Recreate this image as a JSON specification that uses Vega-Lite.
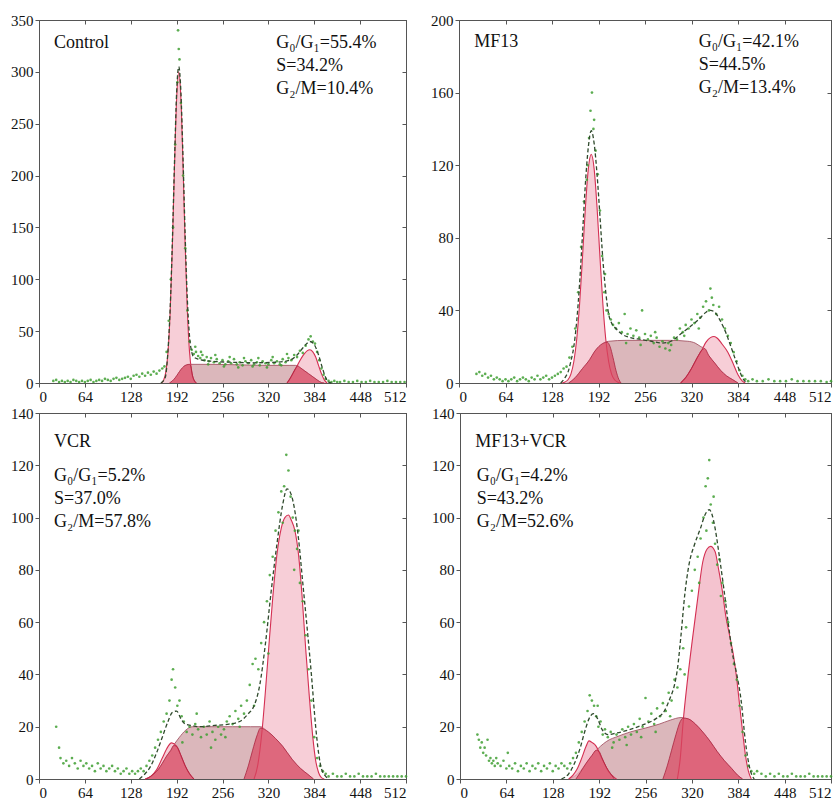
{
"$schema": "https://vega.github.io/schema/vega-lite/v6.json",
"background": "white",
"padding": {"left": 10, "top": 12, "right": 5, "bottom": 0},
"config": {"font": "Liberation Serif", "view": {"stroke": "#555", "strokeWidth": 1},
  "axis": {"labelFont": "Liberation Serif", "labelFontSize": 15, "labelColor": "#111", "domainColor": "#555", "tickColor": "#555", "grid": false, "tickSize": 4, "title": null, "labelPadding": 2}},
"datasets": {
"curves": [
{"p":"A","c":"S","x":182,"y":0},{"p":"A","c":"S","x":186,"y":2},{"p":"A","c":"S","x":190,"y":5},{"p":"A","c":"S","x":194,"y":9},{"p":"A","c":"S","x":198,"y":13},{"p":"A","c":"S","x":202,"y":16},{"p":"A","c":"S","x":206,"y":17.5},{"p":"A","c":"S","x":212,"y":18},{"p":"A","c":"S","x":240,"y":18},{"p":"A","c":"S","x":280,"y":17.5},{"p":"A","c":"S","x":320,"y":17},{"p":"A","c":"S","x":350,"y":17},{"p":"A","c":"S","x":358,"y":17},{"p":"A","c":"S","x":364,"y":15},{"p":"A","c":"S","x":370,"y":12},{"p":"A","c":"S","x":376,"y":9},{"p":"A","c":"S","x":382,"y":6},{"p":"A","c":"S","x":388,"y":3},{"p":"A","c":"S","x":394,"y":0.5},{"p":"A","c":"S","x":398,"y":0},
{"p":"A","c":"G1","x":171,"y":0},{"p":"A","c":"G1","x":174,"y":3},{"p":"A","c":"G1","x":177,"y":11},{"p":"A","c":"G1","x":180,"y":30},{"p":"A","c":"G1","x":183,"y":69},{"p":"A","c":"G1","x":186,"y":131},{"p":"A","c":"G1","x":189,"y":208},{"p":"A","c":"G1","x":192,"y":274},{"p":"A","c":"G1","x":195,"y":300},{"p":"A","c":"G1","x":198,"y":274},{"p":"A","c":"G1","x":201,"y":208},{"p":"A","c":"G1","x":204,"y":131},{"p":"A","c":"G1","x":207,"y":69},{"p":"A","c":"G1","x":210,"y":30},{"p":"A","c":"G1","x":213,"y":11},{"p":"A","c":"G1","x":216,"y":3},{"p":"A","c":"G1","x":219,"y":0},
{"p":"A","c":"G2","x":346,"y":0},{"p":"A","c":"G2","x":350,"y":4},{"p":"A","c":"G2","x":354,"y":9},{"p":"A","c":"G2","x":358,"y":14},{"p":"A","c":"G2","x":362,"y":19},{"p":"A","c":"G2","x":366,"y":24},{"p":"A","c":"G2","x":370,"y":28},{"p":"A","c":"G2","x":374,"y":31},{"p":"A","c":"G2","x":378,"y":32},{"p":"A","c":"G2","x":382,"y":30},{"p":"A","c":"G2","x":386,"y":25},{"p":"A","c":"G2","x":390,"y":17},{"p":"A","c":"G2","x":394,"y":9},{"p":"A","c":"G2","x":398,"y":3},{"p":"A","c":"G2","x":402,"y":0},
{"p":"A","c":"OV1","x":182,"y":0},{"p":"A","c":"OV1","x":186,"y":2},{"p":"A","c":"OV1","x":190,"y":5},{"p":"A","c":"OV1","x":194,"y":9},{"p":"A","c":"OV1","x":198,"y":13},{"p":"A","c":"OV1","x":202,"y":16},{"p":"A","c":"OV1","x":206,"y":17.5},{"p":"A","c":"OV1","x":210,"y":18},{"p":"A","c":"OV1","x":212,"y":15.5},{"p":"A","c":"OV1","x":214,"y":7.5},{"p":"A","c":"OV1","x":217,"y":2},{"p":"A","c":"OV1","x":220,"y":0},
{"p":"A","c":"OV2","x":346,"y":0},{"p":"A","c":"OV2","x":350,"y":4},{"p":"A","c":"OV2","x":354,"y":9},{"p":"A","c":"OV2","x":358,"y":14},{"p":"A","c":"OV2","x":361,"y":16.5},{"p":"A","c":"OV2","x":364,"y":15},{"p":"A","c":"OV2","x":370,"y":12},{"p":"A","c":"OV2","x":376,"y":9},{"p":"A","c":"OV2","x":382,"y":6},{"p":"A","c":"OV2","x":388,"y":3},{"p":"A","c":"OV2","x":394,"y":0.5},{"p":"A","c":"OV2","x":398,"y":0},
{"p":"A","c":"T","x":170,"y":0},{"p":"A","c":"T","x":176,"y":5},{"p":"A","c":"T","x":180,"y":32},{"p":"A","c":"T","x":183,"y":72},{"p":"A","c":"T","x":186,"y":135},{"p":"A","c":"T","x":189,"y":212},{"p":"A","c":"T","x":192,"y":280},{"p":"A","c":"T","x":195,"y":305},{"p":"A","c":"T","x":198,"y":280},{"p":"A","c":"T","x":201,"y":215},{"p":"A","c":"T","x":204,"y":140},{"p":"A","c":"T","x":207,"y":80},{"p":"A","c":"T","x":210,"y":45},{"p":"A","c":"T","x":213,"y":30},{"p":"A","c":"T","x":216,"y":25},{"p":"A","c":"T","x":222,"y":23},{"p":"A","c":"T","x":240,"y":21},{"p":"A","c":"T","x":270,"y":20},{"p":"A","c":"T","x":300,"y":19.5},{"p":"A","c":"T","x":330,"y":20},{"p":"A","c":"T","x":350,"y":22},{"p":"A","c":"T","x":360,"y":27},{"p":"A","c":"T","x":366,"y":32},{"p":"A","c":"T","x":372,"y":37},{"p":"A","c":"T","x":378,"y":40},{"p":"A","c":"T","x":384,"y":37},{"p":"A","c":"T","x":390,"y":27},{"p":"A","c":"T","x":396,"y":13},{"p":"A","c":"T","x":400,"y":5},{"p":"A","c":"T","x":404,"y":1},{"p":"A","c":"T","x":408,"y":0},

{"p":"B","c":"S","x":148,"y":0},{"p":"B","c":"S","x":155,"y":1},{"p":"B","c":"S","x":160,"y":3},{"p":"B","c":"S","x":170,"y":8},{"p":"B","c":"S","x":180,"y":13},{"p":"B","c":"S","x":186,"y":17},{"p":"B","c":"S","x":195,"y":21},{"p":"B","c":"S","x":206,"y":23},{"p":"B","c":"S","x":230,"y":23.5},{"p":"B","c":"S","x":260,"y":23.5},{"p":"B","c":"S","x":290,"y":23.5},{"p":"B","c":"S","x":315,"y":23},{"p":"B","c":"S","x":325,"y":22},{"p":"B","c":"S","x":333,"y":20},{"p":"B","c":"S","x":338,"y":19},{"p":"B","c":"S","x":344,"y":15},{"p":"B","c":"S","x":352,"y":11},{"p":"B","c":"S","x":360,"y":7},{"p":"B","c":"S","x":368,"y":4},{"p":"B","c":"S","x":376,"y":2},{"p":"B","c":"S","x":384,"y":0},
{"p":"B","c":"G1","x":142,"y":0},{"p":"B","c":"G1","x":146,"y":0.6},{"p":"B","c":"G1","x":150,"y":1.8},{"p":"B","c":"G1","x":154,"y":4.9},{"p":"B","c":"G1","x":158,"y":11.7},{"p":"B","c":"G1","x":162,"y":24.1},{"p":"B","c":"G1","x":166,"y":43.7},{"p":"B","c":"G1","x":170,"y":69.4},{"p":"B","c":"G1","x":174,"y":96.8},{"p":"B","c":"G1","x":178,"y":118},{"p":"B","c":"G1","x":182,"y":126},{"p":"B","c":"G1","x":186,"y":118},{"p":"B","c":"G1","x":190,"y":96.8},{"p":"B","c":"G1","x":194,"y":69.4},{"p":"B","c":"G1","x":198,"y":43.7},{"p":"B","c":"G1","x":202,"y":24.1},{"p":"B","c":"G1","x":206,"y":11.7},{"p":"B","c":"G1","x":210,"y":4.9},{"p":"B","c":"G1","x":214,"y":1.8},{"p":"B","c":"G1","x":218,"y":0.6},{"p":"B","c":"G1","x":222,"y":0},
{"p":"B","c":"G2","x":305,"y":0},{"p":"B","c":"G2","x":312,"y":3},{"p":"B","c":"G2","x":320,"y":8},{"p":"B","c":"G2","x":328,"y":14},{"p":"B","c":"G2","x":334,"y":18},{"p":"B","c":"G2","x":340,"y":22.5},{"p":"B","c":"G2","x":346,"y":25},{"p":"B","c":"G2","x":351,"y":25.6},{"p":"B","c":"G2","x":356,"y":24.5},{"p":"B","c":"G2","x":362,"y":21.5},{"p":"B","c":"G2","x":370,"y":17},{"p":"B","c":"G2","x":377,"y":11},{"p":"B","c":"G2","x":384,"y":4.5},{"p":"B","c":"G2","x":390,"y":1},{"p":"B","c":"G2","x":394,"y":0},
{"p":"B","c":"OV1","x":151,"y":0},{"p":"B","c":"OV1","x":160,"y":3},{"p":"B","c":"OV1","x":170,"y":8},{"p":"B","c":"OV1","x":180,"y":13},{"p":"B","c":"OV1","x":186,"y":17},{"p":"B","c":"OV1","x":195,"y":21},{"p":"B","c":"OV1","x":204,"y":22.5},{"p":"B","c":"OV1","x":208,"y":20},{"p":"B","c":"OV1","x":212,"y":14},{"p":"B","c":"OV1","x":216,"y":7},{"p":"B","c":"OV1","x":220,"y":2},{"p":"B","c":"OV1","x":223,"y":0},
{"p":"B","c":"OV2","x":305,"y":0},{"p":"B","c":"OV2","x":312,"y":3},{"p":"B","c":"OV2","x":320,"y":8},{"p":"B","c":"OV2","x":328,"y":14},{"p":"B","c":"OV2","x":334,"y":18},{"p":"B","c":"OV2","x":338,"y":19},{"p":"B","c":"OV2","x":344,"y":15},{"p":"B","c":"OV2","x":352,"y":11},{"p":"B","c":"OV2","x":360,"y":7},{"p":"B","c":"OV2","x":368,"y":4},{"p":"B","c":"OV2","x":376,"y":2},{"p":"B","c":"OV2","x":384,"y":0},
{"p":"B","c":"T","x":140,"y":0},{"p":"B","c":"T","x":146,"y":3},{"p":"B","c":"T","x":150,"y":6},{"p":"B","c":"T","x":154,"y":12},{"p":"B","c":"T","x":158,"y":20},{"p":"B","c":"T","x":162,"y":34},{"p":"B","c":"T","x":166,"y":55},{"p":"B","c":"T","x":170,"y":82},{"p":"B","c":"T","x":174,"y":110},{"p":"B","c":"T","x":178,"y":130},{"p":"B","c":"T","x":182,"y":139},{"p":"B","c":"T","x":186,"y":132},{"p":"B","c":"T","x":190,"y":115},{"p":"B","c":"T","x":194,"y":92},{"p":"B","c":"T","x":198,"y":68},{"p":"B","c":"T","x":202,"y":50},{"p":"B","c":"T","x":206,"y":38},{"p":"B","c":"T","x":210,"y":33},{"p":"B","c":"T","x":216,"y":30},{"p":"B","c":"T","x":224,"y":27},{"p":"B","c":"T","x":236,"y":25},{"p":"B","c":"T","x":250,"y":24},{"p":"B","c":"T","x":265,"y":23},{"p":"B","c":"T","x":280,"y":22},{"p":"B","c":"T","x":292,"y":23},{"p":"B","c":"T","x":305,"y":27},{"p":"B","c":"T","x":318,"y":31},{"p":"B","c":"T","x":330,"y":35},{"p":"B","c":"T","x":340,"y":39},{"p":"B","c":"T","x":346,"y":40},{"p":"B","c":"T","x":352,"y":39},{"p":"B","c":"T","x":360,"y":34},{"p":"B","c":"T","x":368,"y":27},{"p":"B","c":"T","x":376,"y":18},{"p":"B","c":"T","x":384,"y":9},{"p":"B","c":"T","x":390,"y":3},{"p":"B","c":"T","x":396,"y":0},

{"p":"C","c":"S","x":148,"y":0},{"p":"C","c":"S","x":156,"y":1},{"p":"C","c":"S","x":164,"y":3},{"p":"C","c":"S","x":172,"y":6},{"p":"C","c":"S","x":180,"y":9.5},{"p":"C","c":"S","x":188,"y":13},{"p":"C","c":"S","x":196,"y":16},{"p":"C","c":"S","x":204,"y":18.5},{"p":"C","c":"S","x":214,"y":20},{"p":"C","c":"S","x":240,"y":20},{"p":"C","c":"S","x":270,"y":20},{"p":"C","c":"S","x":295,"y":20},{"p":"C","c":"S","x":309,"y":20},{"p":"C","c":"S","x":320,"y":18},{"p":"C","c":"S","x":330,"y":15.5},{"p":"C","c":"S","x":340,"y":12.5},{"p":"C","c":"S","x":353,"y":7.6},{"p":"C","c":"S","x":365,"y":4},{"p":"C","c":"S","x":375,"y":1.8},{"p":"C","c":"S","x":383,"y":0},
{"p":"C","c":"G1","x":148,"y":0},{"p":"C","c":"G1","x":156,"y":1},{"p":"C","c":"G1","x":164,"y":3.5},{"p":"C","c":"G1","x":172,"y":8},{"p":"C","c":"G1","x":178,"y":11.5},{"p":"C","c":"G1","x":185,"y":13.8},{"p":"C","c":"G1","x":192,"y":12.5},{"p":"C","c":"G1","x":198,"y":9},{"p":"C","c":"G1","x":204,"y":5},{"p":"C","c":"G1","x":210,"y":2},{"p":"C","c":"G1","x":216,"y":0},
{"p":"C","c":"G2","x":300,"y":0},{"p":"C","c":"G2","x":305,"y":5},{"p":"C","c":"G2","x":311,"y":18},{"p":"C","c":"G2","x":316,"y":34},{"p":"C","c":"G2","x":321,"y":52},{"p":"C","c":"G2","x":326,"y":69},{"p":"C","c":"G2","x":332,"y":86},{"p":"C","c":"G2","x":338,"y":96},{"p":"C","c":"G2","x":343,"y":100},{"p":"C","c":"G2","x":348,"y":101},{"p":"C","c":"G2","x":352,"y":99},{"p":"C","c":"G2","x":357,"y":95},{"p":"C","c":"G2","x":362,"y":86},{"p":"C","c":"G2","x":367,"y":70},{"p":"C","c":"G2","x":372,"y":50},{"p":"C","c":"G2","x":377,"y":32},{"p":"C","c":"G2","x":382,"y":16},{"p":"C","c":"G2","x":386,"y":7},{"p":"C","c":"G2","x":390,"y":2.5},{"p":"C","c":"G2","x":394,"y":0.5},{"p":"C","c":"G2","x":398,"y":0},
{"p":"C","c":"OV1","x":150,"y":0},{"p":"C","c":"OV1","x":158,"y":1.5},{"p":"C","c":"OV1","x":166,"y":3.5},{"p":"C","c":"OV1","x":172,"y":6},{"p":"C","c":"OV1","x":178,"y":8.8},{"p":"C","c":"OV1","x":184,"y":11},{"p":"C","c":"OV1","x":188,"y":12.8},{"p":"C","c":"OV1","x":192,"y":12.5},{"p":"C","c":"OV1","x":198,"y":9},{"p":"C","c":"OV1","x":204,"y":5},{"p":"C","c":"OV1","x":210,"y":2},{"p":"C","c":"OV1","x":216,"y":0},
{"p":"C","c":"OV2","x":286,"y":0},{"p":"C","c":"OV2","x":292,"y":5},{"p":"C","c":"OV2","x":298,"y":11},{"p":"C","c":"OV2","x":304,"y":16.5},{"p":"C","c":"OV2","x":309,"y":19.5},{"p":"C","c":"OV2","x":320,"y":18},{"p":"C","c":"OV2","x":330,"y":15.5},{"p":"C","c":"OV2","x":340,"y":12.5},{"p":"C","c":"OV2","x":353,"y":7.6},{"p":"C","c":"OV2","x":365,"y":4},{"p":"C","c":"OV2","x":375,"y":1.8},{"p":"C","c":"OV2","x":383,"y":0},
{"p":"C","c":"T","x":140,"y":0},{"p":"C","c":"T","x":148,"y":2},{"p":"C","c":"T","x":156,"y":5},{"p":"C","c":"T","x":164,"y":10},{"p":"C","c":"T","x":172,"y":16},{"p":"C","c":"T","x":180,"y":22},{"p":"C","c":"T","x":186,"y":25.5},{"p":"C","c":"T","x":192,"y":26},{"p":"C","c":"T","x":198,"y":23},{"p":"C","c":"T","x":204,"y":21},{"p":"C","c":"T","x":212,"y":20.5},{"p":"C","c":"T","x":225,"y":20},{"p":"C","c":"T","x":245,"y":20.5},{"p":"C","c":"T","x":265,"y":21},{"p":"C","c":"T","x":280,"y":22},{"p":"C","c":"T","x":292,"y":25},{"p":"C","c":"T","x":300,"y":28},{"p":"C","c":"T","x":308,"y":36},{"p":"C","c":"T","x":316,"y":52},{"p":"C","c":"T","x":324,"y":72},{"p":"C","c":"T","x":332,"y":90},{"p":"C","c":"T","x":340,"y":105},{"p":"C","c":"T","x":346,"y":111},{"p":"C","c":"T","x":350,"y":110},{"p":"C","c":"T","x":356,"y":104},{"p":"C","c":"T","x":362,"y":92},{"p":"C","c":"T","x":368,"y":75},{"p":"C","c":"T","x":374,"y":58},{"p":"C","c":"T","x":380,"y":40},{"p":"C","c":"T","x":386,"y":20},{"p":"C","c":"T","x":390,"y":10},{"p":"C","c":"T","x":394,"y":4},{"p":"C","c":"T","x":400,"y":1},{"p":"C","c":"T","x":404,"y":0},

{"p":"D","c":"S","x":150,"y":0},{"p":"D","c":"S","x":158,"y":1},{"p":"D","c":"S","x":166,"y":3},{"p":"D","c":"S","x":174,"y":6},{"p":"D","c":"S","x":182,"y":9},{"p":"D","c":"S","x":190,"y":11.5},{"p":"D","c":"S","x":198,"y":13.5},{"p":"D","c":"S","x":206,"y":15},{"p":"D","c":"S","x":215,"y":16},{"p":"D","c":"S","x":235,"y":18},{"p":"D","c":"S","x":256,"y":19.5},{"p":"D","c":"S","x":275,"y":21},{"p":"D","c":"S","x":290,"y":22.5},{"p":"D","c":"S","x":305,"y":23.5},{"p":"D","c":"S","x":315,"y":23},{"p":"D","c":"S","x":325,"y":21},{"p":"D","c":"S","x":335,"y":18},{"p":"D","c":"S","x":345,"y":14.5},{"p":"D","c":"S","x":355,"y":10.5},{"p":"D","c":"S","x":365,"y":7},{"p":"D","c":"S","x":375,"y":4},{"p":"D","c":"S","x":383,"y":1.5},{"p":"D","c":"S","x":390,"y":0},
{"p":"D","c":"G1","x":150,"y":0},{"p":"D","c":"G1","x":156,"y":1.5},{"p":"D","c":"G1","x":162,"y":4},{"p":"D","c":"G1","x":168,"y":8},{"p":"D","c":"G1","x":174,"y":12.5},{"p":"D","c":"G1","x":178,"y":14.6},{"p":"D","c":"G1","x":182,"y":14},{"p":"D","c":"G1","x":188,"y":12.5},{"p":"D","c":"G1","x":194,"y":9},{"p":"D","c":"G1","x":200,"y":5.5},{"p":"D","c":"G1","x":206,"y":2.5},{"p":"D","c":"G1","x":212,"y":0.8},{"p":"D","c":"G1","x":216,"y":0},
{"p":"D","c":"G2","x":300,"y":0},{"p":"D","c":"G2","x":304,"y":8},{"p":"D","c":"G2","x":308,"y":22},{"p":"D","c":"G2","x":314,"y":38},{"p":"D","c":"G2","x":321,"y":54},{"p":"D","c":"G2","x":328,"y":69},{"p":"D","c":"G2","x":335,"y":83},{"p":"D","c":"G2","x":341,"y":88},{"p":"D","c":"G2","x":346,"y":89},{"p":"D","c":"G2","x":352,"y":87},{"p":"D","c":"G2","x":357,"y":80},{"p":"D","c":"G2","x":362,"y":72},{"p":"D","c":"G2","x":367,"y":62},{"p":"D","c":"G2","x":372,"y":55},{"p":"D","c":"G2","x":377,"y":48},{"p":"D","c":"G2","x":382,"y":38},{"p":"D","c":"G2","x":386,"y":28},{"p":"D","c":"G2","x":390,"y":18},{"p":"D","c":"G2","x":394,"y":9},{"p":"D","c":"G2","x":398,"y":3},{"p":"D","c":"G2","x":402,"y":0},
{"p":"D","c":"OV1","x":160,"y":0},{"p":"D","c":"OV1","x":166,"y":2.5},{"p":"D","c":"OV1","x":174,"y":6},{"p":"D","c":"OV1","x":182,"y":9},{"p":"D","c":"OV1","x":188,"y":11},{"p":"D","c":"OV1","x":192,"y":10.5},{"p":"D","c":"OV1","x":196,"y":8},{"p":"D","c":"OV1","x":202,"y":4.5},{"p":"D","c":"OV1","x":208,"y":2},{"p":"D","c":"OV1","x":213,"y":0},
{"p":"D","c":"OV2","x":280,"y":0},{"p":"D","c":"OV2","x":286,"y":5},{"p":"D","c":"OV2","x":292,"y":11},{"p":"D","c":"OV2","x":298,"y":17},{"p":"D","c":"OV2","x":304,"y":22},{"p":"D","c":"OV2","x":308,"y":23.3},{"p":"D","c":"OV2","x":315,"y":23},{"p":"D","c":"OV2","x":325,"y":21},{"p":"D","c":"OV2","x":335,"y":18},{"p":"D","c":"OV2","x":345,"y":14.5},{"p":"D","c":"OV2","x":355,"y":10.5},{"p":"D","c":"OV2","x":365,"y":7},{"p":"D","c":"OV2","x":375,"y":4},{"p":"D","c":"OV2","x":383,"y":1.5},{"p":"D","c":"OV2","x":390,"y":0},
{"p":"D","c":"T","x":140,"y":0},{"p":"D","c":"T","x":150,"y":2},{"p":"D","c":"T","x":158,"y":6},{"p":"D","c":"T","x":166,"y":12},{"p":"D","c":"T","x":172,"y":18},{"p":"D","c":"T","x":178,"y":23},{"p":"D","c":"T","x":184,"y":25},{"p":"D","c":"T","x":190,"y":23},{"p":"D","c":"T","x":196,"y":19},{"p":"D","c":"T","x":204,"y":17},{"p":"D","c":"T","x":215,"y":17.5},{"p":"D","c":"T","x":235,"y":19},{"p":"D","c":"T","x":255,"y":21},{"p":"D","c":"T","x":270,"y":23},{"p":"D","c":"T","x":282,"y":26},{"p":"D","c":"T","x":290,"y":31},{"p":"D","c":"T","x":296,"y":36},{"p":"D","c":"T","x":300,"y":42},{"p":"D","c":"T","x":305,"y":55},{"p":"D","c":"T","x":310,"y":70},{"p":"D","c":"T","x":316,"y":82},{"p":"D","c":"T","x":324,"y":90},{"p":"D","c":"T","x":332,"y":96},{"p":"D","c":"T","x":338,"y":101},{"p":"D","c":"T","x":344,"y":103},{"p":"D","c":"T","x":348,"y":101},{"p":"D","c":"T","x":352,"y":96},{"p":"D","c":"T","x":358,"y":85},{"p":"D","c":"T","x":364,"y":73},{"p":"D","c":"T","x":370,"y":60},{"p":"D","c":"T","x":376,"y":48},{"p":"D","c":"T","x":382,"y":40},{"p":"D","c":"T","x":388,"y":30},{"p":"D","c":"T","x":394,"y":14},{"p":"D","c":"T","x":400,"y":4},{"p":"D","c":"T","x":406,"y":0}
],
"dots": [
{"p":"A","x":20,"y":2},{"p":"A","x":24,"y":3},{"p":"A","x":28,"y":1},{"p":"A","x":32,"y":2},{"p":"A","x":36,"y":1},{"p":"A","x":40,"y":2},{"p":"A","x":44,"y":1},{"p":"A","x":48,"y":3},{"p":"A","x":52,"y":2},{"p":"A","x":56,"y":1},{"p":"A","x":60,"y":2},{"p":"A","x":64,"y":1},{"p":"A","x":68,"y":2},{"p":"A","x":72,"y":3},{"p":"A","x":76,"y":1},{"p":"A","x":80,"y":2},{"p":"A","x":84,"y":3},{"p":"A","x":88,"y":2},{"p":"A","x":92,"y":4},{"p":"A","x":96,"y":3},{"p":"A","x":100,"y":2},{"p":"A","x":104,"y":4},{"p":"A","x":108,"y":5},{"p":"A","x":112,"y":3},{"p":"A","x":116,"y":4},{"p":"A","x":120,"y":5},{"p":"A","x":124,"y":6},{"p":"A","x":128,"y":4},{"p":"A","x":132,"y":7},{"p":"A","x":136,"y":8},{"p":"A","x":140,"y":6},{"p":"A","x":144,"y":9},{"p":"A","x":148,"y":7},{"p":"A","x":152,"y":10},{"p":"A","x":156,"y":8},{"p":"A","x":160,"y":11},{"p":"A","x":164,"y":9},{"p":"A","x":168,"y":12},{"p":"A","x":172,"y":14},{"p":"A","x":175,"y":16},{"p":"A","x":178,"y":30},{"p":"A","x":181,"y":60},{"p":"A","x":184,"y":100},{"p":"A","x":187,"y":150},{"p":"A","x":190,"y":230},{"p":"A","x":193,"y":290},{"p":"A","x":194,"y":340},{"p":"A","x":195,"y":322},{"p":"A","x":196,"y":312},{"p":"A","x":198,"y":270},{"p":"A","x":201,"y":200},{"p":"A","x":204,"y":130},{"p":"A","x":207,"y":70},{"p":"A","x":210,"y":40},{"p":"A","x":213,"y":32},{"p":"A","x":216,"y":28},{"p":"A","x":218,"y":35},{"p":"A","x":219,"y":30},{"p":"A","x":222,"y":26},{"p":"A","x":225,"y":24},{"p":"A","x":226,"y":30},{"p":"A","x":228,"y":27},{"p":"A","x":231,"y":22},{"p":"A","x":234,"y":25},{"p":"A","x":236,"y":18},{"p":"A","x":237,"y":21},{"p":"A","x":240,"y":24},{"p":"A","x":244,"y":20},{"p":"A","x":246,"y":27},{"p":"A","x":248,"y":23},{"p":"A","x":252,"y":19},{"p":"A","x":256,"y":22},{"p":"A","x":258,"y":16},{"p":"A","x":260,"y":18},{"p":"A","x":264,"y":21},{"p":"A","x":266,"y":25},{"p":"A","x":268,"y":19},{"p":"A","x":272,"y":23},{"p":"A","x":276,"y":18},{"p":"A","x":278,"y":15},{"p":"A","x":280,"y":20},{"p":"A","x":284,"y":17},{"p":"A","x":286,"y":24},{"p":"A","x":288,"y":21},{"p":"A","x":292,"y":19},{"p":"A","x":296,"y":22},{"p":"A","x":298,"y":16},{"p":"A","x":300,"y":18},{"p":"A","x":304,"y":20},{"p":"A","x":306,"y":24},{"p":"A","x":308,"y":17},{"p":"A","x":312,"y":21},{"p":"A","x":316,"y":19},{"p":"A","x":318,"y":15},{"p":"A","x":320,"y":18},{"p":"A","x":324,"y":22},{"p":"A","x":326,"y":25},{"p":"A","x":328,"y":19},{"p":"A","x":332,"y":21},{"p":"A","x":336,"y":18},{"p":"A","x":338,"y":17},{"p":"A","x":340,"y":23},{"p":"A","x":344,"y":20},{"p":"A","x":346,"y":28},{"p":"A","x":348,"y":24},{"p":"A","x":352,"y":22},{"p":"A","x":356,"y":27},{"p":"A","x":360,"y":25},{"p":"A","x":364,"y":31},{"p":"A","x":368,"y":29},{"p":"A","x":372,"y":36},{"p":"A","x":376,"y":42},{"p":"A","x":379,"y":45},{"p":"A","x":382,"y":40},{"p":"A","x":385,"y":38},{"p":"A","x":388,"y":30},{"p":"A","x":391,"y":22},{"p":"A","x":394,"y":14},{"p":"A","x":397,"y":8},{"p":"A","x":400,"y":4},{"p":"A","x":404,"y":2},{"p":"A","x":408,"y":1},{"p":"A","x":412,"y":2},{"p":"A","x":416,"y":1},{"p":"A","x":420,"y":1},{"p":"A","x":426,"y":2},{"p":"A","x":432,"y":1},{"p":"A","x":438,"y":1},{"p":"A","x":444,"y":2},{"p":"A","x":450,"y":1},{"p":"A","x":456,"y":1},{"p":"A","x":462,"y":2},{"p":"A","x":468,"y":1},{"p":"A","x":474,"y":1},{"p":"A","x":480,"y":1},{"p":"A","x":486,"y":2},{"p":"A","x":492,"y":1},{"p":"A","x":498,"y":1},{"p":"A","x":504,"y":1},{"p":"A","x":510,"y":1},
{"p":"B","x":24,"y":5},{"p":"B","x":28,"y":6},{"p":"B","x":32,"y":4},{"p":"B","x":36,"y":5},{"p":"B","x":40,"y":3},{"p":"B","x":44,"y":4},{"p":"B","x":48,"y":2},{"p":"B","x":52,"y":3},{"p":"B","x":56,"y":2},{"p":"B","x":60,"y":1},{"p":"B","x":64,"y":2},{"p":"B","x":68,"y":1},{"p":"B","x":72,"y":2},{"p":"B","x":76,"y":3},{"p":"B","x":80,"y":1},{"p":"B","x":84,"y":2},{"p":"B","x":88,"y":3},{"p":"B","x":92,"y":2},{"p":"B","x":96,"y":1},{"p":"B","x":100,"y":3},{"p":"B","x":104,"y":2},{"p":"B","x":108,"y":4},{"p":"B","x":112,"y":2},{"p":"B","x":116,"y":3},{"p":"B","x":120,"y":4},{"p":"B","x":124,"y":2},{"p":"B","x":128,"y":3},{"p":"B","x":132,"y":4},{"p":"B","x":136,"y":5},{"p":"B","x":140,"y":6},{"p":"B","x":144,"y":8},{"p":"B","x":148,"y":9},{"p":"B","x":152,"y":14},{"p":"B","x":156,"y":20},{"p":"B","x":160,"y":30},{"p":"B","x":164,"y":50},{"p":"B","x":168,"y":75},{"p":"B","x":172,"y":100},{"p":"B","x":176,"y":112},{"p":"B","x":177,"y":120},{"p":"B","x":179,"y":135},{"p":"B","x":181,"y":150},{"p":"B","x":183,"y":160},{"p":"B","x":185,"y":140},{"p":"B","x":186,"y":145},{"p":"B","x":188,"y":128},{"p":"B","x":191,"y":115},{"p":"B","x":194,"y":95},{"p":"B","x":197,"y":70},{"p":"B","x":200,"y":50},{"p":"B","x":201,"y":60},{"p":"B","x":203,"y":40},{"p":"B","x":206,"y":38},{"p":"B","x":209,"y":35},{"p":"B","x":212,"y":32},{"p":"B","x":216,"y":30},{"p":"B","x":220,"y":33},{"p":"B","x":224,"y":28},{"p":"B","x":228,"y":38},{"p":"B","x":230,"y":22},{"p":"B","x":232,"y":27},{"p":"B","x":236,"y":30},{"p":"B","x":240,"y":26},{"p":"B","x":244,"y":29},{"p":"B","x":248,"y":25},{"p":"B","x":250,"y":21},{"p":"B","x":252,"y":40},{"p":"B","x":256,"y":27},{"p":"B","x":260,"y":24},{"p":"B","x":264,"y":26},{"p":"B","x":268,"y":22},{"p":"B","x":270,"y":28},{"p":"B","x":272,"y":25},{"p":"B","x":276,"y":20},{"p":"B","x":280,"y":23},{"p":"B","x":284,"y":19},{"p":"B","x":288,"y":22},{"p":"B","x":290,"y":18},{"p":"B","x":292,"y":21},{"p":"B","x":296,"y":25},{"p":"B","x":300,"y":24},{"p":"B","x":304,"y":30},{"p":"B","x":308,"y":28},{"p":"B","x":310,"y":26},{"p":"B","x":312,"y":32},{"p":"B","x":316,"y":30},{"p":"B","x":320,"y":35},{"p":"B","x":324,"y":33},{"p":"B","x":328,"y":38},{"p":"B","x":330,"y":30},{"p":"B","x":332,"y":36},{"p":"B","x":336,"y":42},{"p":"B","x":340,"y":45},{"p":"B","x":344,"y":40},{"p":"B","x":346,"y":52},{"p":"B","x":348,"y":47},{"p":"B","x":350,"y":43},{"p":"B","x":354,"y":38},{"p":"B","x":358,"y":42},{"p":"B","x":362,"y":35},{"p":"B","x":366,"y":30},{"p":"B","x":370,"y":26},{"p":"B","x":374,"y":22},{"p":"B","x":378,"y":17},{"p":"B","x":382,"y":12},{"p":"B","x":386,"y":7},{"p":"B","x":390,"y":4},{"p":"B","x":394,"y":2},{"p":"B","x":398,"y":1},{"p":"B","x":404,"y":2},{"p":"B","x":410,"y":1},{"p":"B","x":418,"y":1},{"p":"B","x":426,"y":2},{"p":"B","x":434,"y":1},{"p":"B","x":442,"y":1},{"p":"B","x":450,"y":1},{"p":"B","x":458,"y":2},{"p":"B","x":466,"y":1},{"p":"B","x":474,"y":1},{"p":"B","x":482,"y":1},{"p":"B","x":490,"y":1},{"p":"B","x":498,"y":1},{"p":"B","x":506,"y":0.5},{"p":"B","x":512,"y":1},
{"p":"C","x":24,"y":20},{"p":"C","x":28,"y":12},{"p":"C","x":30,"y":8},{"p":"C","x":34,"y":6},{"p":"C","x":38,"y":7},{"p":"C","x":42,"y":5},{"p":"C","x":46,"y":8},{"p":"C","x":50,"y":6},{"p":"C","x":54,"y":4},{"p":"C","x":58,"y":7},{"p":"C","x":62,"y":5},{"p":"C","x":66,"y":6},{"p":"C","x":70,"y":4},{"p":"C","x":74,"y":5},{"p":"C","x":78,"y":3},{"p":"C","x":82,"y":6},{"p":"C","x":86,"y":4},{"p":"C","x":90,"y":5},{"p":"C","x":94,"y":3},{"p":"C","x":98,"y":4},{"p":"C","x":102,"y":5},{"p":"C","x":106,"y":3},{"p":"C","x":110,"y":4},{"p":"C","x":114,"y":2},{"p":"C","x":118,"y":3},{"p":"C","x":122,"y":4},{"p":"C","x":126,"y":2},{"p":"C","x":130,"y":3},{"p":"C","x":134,"y":2},{"p":"C","x":138,"y":3},{"p":"C","x":142,"y":4},{"p":"C","x":146,"y":3},{"p":"C","x":150,"y":5},{"p":"C","x":154,"y":7},{"p":"C","x":158,"y":9},{"p":"C","x":162,"y":12},{"p":"C","x":166,"y":15},{"p":"C","x":170,"y":18},{"p":"C","x":174,"y":22},{"p":"C","x":178,"y":25},{"p":"C","x":182,"y":30},{"p":"C","x":185,"y":38},{"p":"C","x":187,"y":42},{"p":"C","x":190,"y":35},{"p":"C","x":193,"y":28},{"p":"C","x":196,"y":30},{"p":"C","x":199,"y":24},{"p":"C","x":200,"y":14},{"p":"C","x":202,"y":22},{"p":"C","x":206,"y":18},{"p":"C","x":210,"y":20},{"p":"C","x":214,"y":17},{"p":"C","x":218,"y":21},{"p":"C","x":220,"y":25},{"p":"C","x":222,"y":19},{"p":"C","x":226,"y":16},{"p":"C","x":230,"y":20},{"p":"C","x":234,"y":17},{"p":"C","x":238,"y":22},{"p":"C","x":240,"y":12},{"p":"C","x":242,"y":18},{"p":"C","x":246,"y":15},{"p":"C","x":250,"y":20},{"p":"C","x":254,"y":17},{"p":"C","x":258,"y":19},{"p":"C","x":260,"y":16},{"p":"C","x":262,"y":22},{"p":"C","x":266,"y":24},{"p":"C","x":270,"y":21},{"p":"C","x":274,"y":26},{"p":"C","x":278,"y":23},{"p":"C","x":280,"y":20},{"p":"C","x":282,"y":28},{"p":"C","x":286,"y":25},{"p":"C","x":290,"y":30},{"p":"C","x":294,"y":36},{"p":"C","x":298,"y":44},{"p":"C","x":300,"y":28},{"p":"C","x":302,"y":46},{"p":"C","x":306,"y":42},{"p":"C","x":310,"y":52},{"p":"C","x":314,"y":60},{"p":"C","x":318,"y":68},{"p":"C","x":320,"y":48},{"p":"C","x":322,"y":78},{"p":"C","x":326,"y":85},{"p":"C","x":330,"y":95},{"p":"C","x":334,"y":102},{"p":"C","x":338,"y":110},{"p":"C","x":340,"y":98},{"p":"C","x":342,"y":112},{"p":"C","x":345,"y":124},{"p":"C","x":348,"y":118},{"p":"C","x":351,"y":108},{"p":"C","x":354,"y":100},{"p":"C","x":356,"y":80},{"p":"C","x":357,"y":95},{"p":"C","x":360,"y":88},{"p":"C","x":362,"y":95},{"p":"C","x":364,"y":75},{"p":"C","x":368,"y":68},{"p":"C","x":372,"y":55},{"p":"C","x":376,"y":42},{"p":"C","x":380,"y":30},{"p":"C","x":384,"y":16},{"p":"C","x":388,"y":8},{"p":"C","x":392,"y":5},{"p":"C","x":396,"y":3},{"p":"C","x":400,"y":2},{"p":"C","x":404,"y":1},{"p":"C","x":410,"y":2},{"p":"C","x":416,"y":1},{"p":"C","x":422,"y":1},{"p":"C","x":428,"y":2},{"p":"C","x":434,"y":1},{"p":"C","x":440,"y":1},{"p":"C","x":446,"y":2},{"p":"C","x":452,"y":1},{"p":"C","x":458,"y":1},{"p":"C","x":464,"y":1},{"p":"C","x":470,"y":2},{"p":"C","x":476,"y":1},{"p":"C","x":482,"y":1},{"p":"C","x":488,"y":1},{"p":"C","x":494,"y":1},{"p":"C","x":500,"y":1},{"p":"C","x":506,"y":1},{"p":"C","x":512,"y":1},
{"p":"D","x":24,"y":17},{"p":"D","x":26,"y":15},{"p":"D","x":28,"y":12},{"p":"D","x":30,"y":14},{"p":"D","x":32,"y":10},{"p":"D","x":34,"y":12},{"p":"D","x":36,"y":9},{"p":"D","x":38,"y":15},{"p":"D","x":40,"y":7},{"p":"D","x":42,"y":8},{"p":"D","x":44,"y":6},{"p":"D","x":46,"y":7},{"p":"D","x":48,"y":5},{"p":"D","x":50,"y":8},{"p":"D","x":52,"y":6},{"p":"D","x":56,"y":5},{"p":"D","x":60,"y":7},{"p":"D","x":64,"y":4},{"p":"D","x":66,"y":10},{"p":"D","x":68,"y":5},{"p":"D","x":72,"y":4},{"p":"D","x":76,"y":6},{"p":"D","x":80,"y":3},{"p":"D","x":84,"y":5},{"p":"D","x":88,"y":4},{"p":"D","x":92,"y":6},{"p":"D","x":96,"y":3},{"p":"D","x":100,"y":5},{"p":"D","x":104,"y":4},{"p":"D","x":108,"y":6},{"p":"D","x":112,"y":3},{"p":"D","x":116,"y":5},{"p":"D","x":120,"y":4},{"p":"D","x":124,"y":6},{"p":"D","x":128,"y":3},{"p":"D","x":132,"y":5},{"p":"D","x":136,"y":4},{"p":"D","x":140,"y":6},{"p":"D","x":144,"y":5},{"p":"D","x":148,"y":4},{"p":"D","x":152,"y":6},{"p":"D","x":156,"y":8},{"p":"D","x":160,"y":10},{"p":"D","x":164,"y":14},{"p":"D","x":168,"y":18},{"p":"D","x":172,"y":22},{"p":"D","x":176,"y":26},{"p":"D","x":179,"y":32},{"p":"D","x":182,"y":30},{"p":"D","x":185,"y":28},{"p":"D","x":188,"y":24},{"p":"D","x":190,"y":28},{"p":"D","x":191,"y":20},{"p":"D","x":194,"y":22},{"p":"D","x":197,"y":17},{"p":"D","x":200,"y":19},{"p":"D","x":204,"y":16},{"p":"D","x":208,"y":18},{"p":"D","x":210,"y":12},{"p":"D","x":212,"y":14},{"p":"D","x":216,"y":17},{"p":"D","x":220,"y":15},{"p":"D","x":224,"y":19},{"p":"D","x":228,"y":16},{"p":"D","x":230,"y":13},{"p":"D","x":232,"y":20},{"p":"D","x":236,"y":17},{"p":"D","x":240,"y":21},{"p":"D","x":244,"y":18},{"p":"D","x":248,"y":23},{"p":"D","x":250,"y":16},{"p":"D","x":252,"y":20},{"p":"D","x":256,"y":31},{"p":"D","x":260,"y":22},{"p":"D","x":264,"y":25},{"p":"D","x":268,"y":21},{"p":"D","x":270,"y":18},{"p":"D","x":272,"y":27},{"p":"D","x":276,"y":24},{"p":"D","x":280,"y":29},{"p":"D","x":284,"y":26},{"p":"D","x":288,"y":33},{"p":"D","x":290,"y":24},{"p":"D","x":292,"y":30},{"p":"D","x":296,"y":38},{"p":"D","x":300,"y":35},{"p":"D","x":304,"y":42},{"p":"D","x":308,"y":50},{"p":"D","x":310,"y":40},{"p":"D","x":312,"y":58},{"p":"D","x":316,"y":66},{"p":"D","x":320,"y":72},{"p":"D","x":324,"y":80},{"p":"D","x":328,"y":85},{"p":"D","x":330,"y":75},{"p":"D","x":332,"y":92},{"p":"D","x":336,"y":100},{"p":"D","x":339,"y":112},{"p":"D","x":340,"y":95},{"p":"D","x":342,"y":115},{"p":"D","x":344,"y":122},{"p":"D","x":346,"y":105},{"p":"D","x":349,"y":98},{"p":"D","x":350,"y":108},{"p":"D","x":352,"y":90},{"p":"D","x":355,"y":82},{"p":"D","x":358,"y":84},{"p":"D","x":360,"y":70},{"p":"D","x":362,"y":75},{"p":"D","x":366,"y":68},{"p":"D","x":370,"y":60},{"p":"D","x":374,"y":52},{"p":"D","x":378,"y":44},{"p":"D","x":382,"y":38},{"p":"D","x":386,"y":28},{"p":"D","x":390,"y":18},{"p":"D","x":394,"y":9},{"p":"D","x":398,"y":5},{"p":"D","x":402,"y":3},{"p":"D","x":406,"y":2},{"p":"D","x":410,"y":3},{"p":"D","x":416,"y":2},{"p":"D","x":422,"y":1},{"p":"D","x":428,"y":2},{"p":"D","x":434,"y":1},{"p":"D","x":440,"y":2},{"p":"D","x":446,"y":1},{"p":"D","x":452,"y":1},{"p":"D","x":458,"y":2},{"p":"D","x":464,"y":1},{"p":"D","x":470,"y":1},{"p":"D","x":476,"y":1},{"p":"D","x":482,"y":2},{"p":"D","x":488,"y":1},{"p":"D","x":494,"y":1},{"p":"D","x":500,"y":1},{"p":"D","x":506,"y":1},{"p":"D","x":512,"y":1}
]
},
"vconcat": [
{"hconcat": [
{"width": 367, "height": 363,
 "layer": [
  {"data": {"name": "curves"}, "transform": [{"filter": "datum.p=='A' && datum.c=='S'"}],
   "mark": {"type": "area", "interpolate": "monotone", "color": "#cc989e", "line": {"color": "#9c4658", "strokeWidth": 0.8}},
   "encoding": {"x": {"field": "x", "type": "quantitative", "scale": {"domain": [0, 512], "nice": false}, "axis": {"orient": "bottom", "values": [0,64,128,192,256,320,384,448,512]}},
     "y": {"field": "y", "type": "quantitative", "stack": null, "scale": {"domain": [0, 350], "nice": false}, "axis": {"orient": "left", "values": [0,50,100,150,200,250,300,350]}}}},
  {"data": {"name": "curves"}, "transform": [{"filter": "datum.p=='A' && (datum.c=='G1' || datum.c=='G2')"}],
   "mark": {"type": "area", "interpolate": "monotone", "color": "#f4b9c6", "line": {"color": "#d42f52", "strokeWidth": 1.1}},
   "encoding": {"x": {"field": "x", "type": "quantitative", "axis": null}, "y": {"field": "y", "type": "quantitative", "stack": null, "axis": null}, "detail": {"field": "c"}}},
  {"data": {"name": "curves"}, "transform": [{"filter": "datum.p=='A' && (datum.c=='OV1' || datum.c=='OV2')"}],
   "mark": {"type": "area", "interpolate": "monotone", "color": "#d8465f", "line": {"color": "#a8243f", "strokeWidth": 0.8}},
   "encoding": {"x": {"field": "x", "type": "quantitative", "axis": null}, "y": {"field": "y", "type": "quantitative", "stack": null, "axis": null}, "detail": {"field": "c"}}},
  {"data": {"name": "dots"}, "transform": [{"filter": "datum.p=='A'"}],
   "mark": {"type": "circle", "size": 7, "color": "#3f9f32", "opacity": 0.85},
   "encoding": {"x": {"field": "x", "type": "quantitative", "axis": {"orient": "top", "labels": false, "tickSize": -4, "values": [0,64,128,192,256,320,384,448,512]}},
     "y": {"field": "y", "type": "quantitative", "axis": {"orient": "right", "labels": false, "tickSize": -4, "values": [0,50,100,150,200,250,300,350]}}}},
  {"data": {"name": "curves"}, "transform": [{"filter": "datum.p=='A' && datum.c=='T'"}],
   "mark": {"type": "line", "interpolate": "monotone", "color": "#2f4a2c", "strokeWidth": 1.3, "strokeDash": [4, 2.5]},
   "encoding": {"x": {"field": "x", "type": "quantitative", "axis": null}, "y": {"field": "y", "type": "quantitative", "axis": null}}},
  {"data": {"values": [{}]}, "mark": {"type": "text", "align": "left", "baseline": "alphabetic", "fontSize": 18, "font": "Liberation Serif", "color": "#111"},
   "encoding": {"x": {"datum": 21, "type": "quantitative", "axis": null}, "y": {"datum": 323, "type": "quantitative", "axis": null}, "text": {"value": "Control"}}},
  {"data": {"values": [{}]}, "mark": {"type": "text", "align": "left", "baseline": "alphabetic", "fontSize": 18, "font": "Liberation Serif", "color": "#111", "lineHeight": 23},
   "encoding": {"x": {"datum": 331, "type": "quantitative", "axis": null}, "y": {"datum": 323, "type": "quantitative", "axis": null}, "text": {"value": ["G₀/G₁=55.4%", "S=34.2%", "G₂/M=10.4%"]}}}
 ],
 "resolve": {"axis": {"x": "independent", "y": "independent"}}},
{"width": 372, "height": 363,
 "layer": [
  {"data": {"name": "curves"}, "transform": [{"filter": "datum.p=='B' && datum.c=='S'"}],
   "mark": {"type": "area", "interpolate": "monotone", "color": "#cc989e", "line": {"color": "#9c4658", "strokeWidth": 0.8}},
   "encoding": {"x": {"field": "x", "type": "quantitative", "scale": {"domain": [0, 512], "nice": false}, "axis": {"orient": "bottom", "values": [0,64,128,192,256,320,384,448,512]}},
     "y": {"field": "y", "type": "quantitative", "stack": null, "scale": {"domain": [0, 200], "nice": false}, "axis": {"orient": "left", "values": [0,40,80,120,160,200]}}}},
  {"data": {"name": "curves"}, "transform": [{"filter": "datum.p=='B' && (datum.c=='G1' || datum.c=='G2')"}],
   "mark": {"type": "area", "interpolate": "monotone", "color": "#f4b9c6", "line": {"color": "#d42f52", "strokeWidth": 1.1}},
   "encoding": {"x": {"field": "x", "type": "quantitative", "axis": null}, "y": {"field": "y", "type": "quantitative", "stack": null, "axis": null}, "detail": {"field": "c"}}},
  {"data": {"name": "curves"}, "transform": [{"filter": "datum.p=='B' && (datum.c=='OV1' || datum.c=='OV2')"}],
   "mark": {"type": "area", "interpolate": "monotone", "color": "#d8465f", "line": {"color": "#a8243f", "strokeWidth": 0.8}},
   "encoding": {"x": {"field": "x", "type": "quantitative", "axis": null}, "y": {"field": "y", "type": "quantitative", "stack": null, "axis": null}, "detail": {"field": "c"}}},
  {"data": {"name": "dots"}, "transform": [{"filter": "datum.p=='B'"}],
   "mark": {"type": "circle", "size": 7, "color": "#3f9f32", "opacity": 0.85},
   "encoding": {"x": {"field": "x", "type": "quantitative", "axis": {"orient": "top", "labels": false, "tickSize": -4, "values": [0,64,128,192,256,320,384,448,512]}},
     "y": {"field": "y", "type": "quantitative", "axis": {"orient": "right", "labels": false, "tickSize": -4, "values": [0,40,80,120,160,200]}}}},
  {"data": {"name": "curves"}, "transform": [{"filter": "datum.p=='B' && datum.c=='T'"}],
   "mark": {"type": "line", "interpolate": "monotone", "color": "#2f4a2c", "strokeWidth": 1.3, "strokeDash": [4, 2.5]},
   "encoding": {"x": {"field": "x", "type": "quantitative", "axis": null}, "y": {"field": "y", "type": "quantitative", "axis": null}}},
  {"data": {"values": [{}]}, "mark": {"type": "text", "align": "left", "baseline": "alphabetic", "fontSize": 18, "font": "Liberation Serif", "color": "#111"},
   "encoding": {"x": {"datum": 21, "type": "quantitative", "axis": null}, "y": {"datum": 185, "type": "quantitative", "axis": null}, "text": {"value": "MF13"}}},
  {"data": {"values": [{}]}, "mark": {"type": "text", "align": "left", "baseline": "alphabetic", "fontSize": 18, "font": "Liberation Serif", "color": "#111", "lineHeight": 23},
   "encoding": {"x": {"datum": 330, "type": "quantitative", "axis": null}, "y": {"datum": 185, "type": "quantitative", "axis": null}, "text": {"value": ["G₀/G₁=42.1%", "S=44.5%", "G₂/M=13.4%"]}}}
 ],
 "resolve": {"axis": {"x": "independent", "y": "independent"}}}
], "spacing": 23},
{"hconcat": [
{"width": 367, "height": 366,
 "layer": [
  {"data": {"name": "curves"}, "transform": [{"filter": "datum.p=='C' && datum.c=='S'"}],
   "mark": {"type": "area", "interpolate": "monotone", "color": "#cc989e", "line": {"color": "#9c4658", "strokeWidth": 0.8}},
   "encoding": {"x": {"field": "x", "type": "quantitative", "scale": {"domain": [0, 512], "nice": false}, "axis": {"orient": "bottom", "values": [0,64,128,192,256,320,384,448,512]}},
     "y": {"field": "y", "type": "quantitative", "stack": null, "scale": {"domain": [0, 140], "nice": false}, "axis": {"orient": "left", "values": [0,20,40,60,80,100,120,140]}}}},
  {"data": {"name": "curves"}, "transform": [{"filter": "datum.p=='C' && (datum.c=='G1' || datum.c=='G2')"}],
   "mark": {"type": "area", "interpolate": "monotone", "color": "#f4b9c6", "line": {"color": "#d42f52", "strokeWidth": 1.1}},
   "encoding": {"x": {"field": "x", "type": "quantitative", "axis": null}, "y": {"field": "y", "type": "quantitative", "stack": null, "axis": null}, "detail": {"field": "c"}}},
  {"data": {"name": "curves"}, "transform": [{"filter": "datum.p=='C' && (datum.c=='OV1' || datum.c=='OV2')"}],
   "mark": {"type": "area", "interpolate": "monotone", "color": "#d8465f", "line": {"color": "#a8243f", "strokeWidth": 0.8}},
   "encoding": {"x": {"field": "x", "type": "quantitative", "axis": null}, "y": {"field": "y", "type": "quantitative", "stack": null, "axis": null}, "detail": {"field": "c"}}},
  {"data": {"name": "dots"}, "transform": [{"filter": "datum.p=='C'"}],
   "mark": {"type": "circle", "size": 7, "color": "#3f9f32", "opacity": 0.85},
   "encoding": {"x": {"field": "x", "type": "quantitative", "axis": {"orient": "top", "labels": false, "tickSize": -4, "values": [0,64,128,192,256,320,384,448,512]}},
     "y": {"field": "y", "type": "quantitative", "axis": {"orient": "right", "labels": false, "tickSize": -4, "values": [0,20,40,60,80,100,120,140]}}}},
  {"data": {"name": "curves"}, "transform": [{"filter": "datum.p=='C' && datum.c=='T'"}],
   "mark": {"type": "line", "interpolate": "monotone", "color": "#2f4a2c", "strokeWidth": 1.3, "strokeDash": [4, 2.5]},
   "encoding": {"x": {"field": "x", "type": "quantitative", "axis": null}, "y": {"field": "y", "type": "quantitative", "axis": null}}},
  {"data": {"values": [{}]}, "mark": {"type": "text", "align": "left", "baseline": "alphabetic", "fontSize": 18, "font": "Liberation Serif", "color": "#111"},
   "encoding": {"x": {"datum": 21, "type": "quantitative", "axis": null}, "y": {"datum": 127, "type": "quantitative", "axis": null}, "text": {"value": "VCR"}}},
  {"data": {"values": [{}]}, "mark": {"type": "text", "align": "left", "baseline": "alphabetic", "fontSize": 18, "font": "Liberation Serif", "color": "#111", "lineHeight": 23},
   "encoding": {"x": {"datum": 21, "type": "quantitative", "axis": null}, "y": {"datum": 114, "type": "quantitative", "axis": null}, "text": {"value": ["G₀/G₁=5.2%", "S=37.0%", "G₂/M=57.8%"]}}}
 ],
 "resolve": {"axis": {"x": "independent", "y": "independent"}}},
{"width": 371, "height": 366,
 "layer": [
  {"data": {"name": "curves"}, "transform": [{"filter": "datum.p=='D' && datum.c=='S'"}],
   "mark": {"type": "area", "interpolate": "monotone", "color": "#cc989e", "line": {"color": "#9c4658", "strokeWidth": 0.8}},
   "encoding": {"x": {"field": "x", "type": "quantitative", "scale": {"domain": [0, 512], "nice": false}, "axis": {"orient": "bottom", "values": [0,64,128,192,256,320,384,448,512]}},
     "y": {"field": "y", "type": "quantitative", "stack": null, "scale": {"domain": [0, 140], "nice": false}, "axis": {"orient": "left", "values": [0,20,40,60,80,100,120,140]}}}},
  {"data": {"name": "curves"}, "transform": [{"filter": "datum.p=='D' && (datum.c=='G1' || datum.c=='G2')"}],
   "mark": {"type": "area", "interpolate": "monotone", "color": "#f0aabb", "line": {"color": "#d42f52", "strokeWidth": 1.1}},
   "encoding": {"x": {"field": "x", "type": "quantitative", "axis": null}, "y": {"field": "y", "type": "quantitative", "stack": null, "axis": null}, "detail": {"field": "c"}}},
  {"data": {"name": "curves"}, "transform": [{"filter": "datum.p=='D' && (datum.c=='OV1' || datum.c=='OV2')"}],
   "mark": {"type": "area", "interpolate": "monotone", "color": "#d8465f", "line": {"color": "#a8243f", "strokeWidth": 0.8}},
   "encoding": {"x": {"field": "x", "type": "quantitative", "axis": null}, "y": {"field": "y", "type": "quantitative", "stack": null, "axis": null}, "detail": {"field": "c"}}},
  {"data": {"name": "dots"}, "transform": [{"filter": "datum.p=='D'"}],
   "mark": {"type": "circle", "size": 7, "color": "#3f9f32", "opacity": 0.85},
   "encoding": {"x": {"field": "x", "type": "quantitative", "axis": {"orient": "top", "labels": false, "tickSize": -4, "values": [0,64,128,192,256,320,384,448,512]}},
     "y": {"field": "y", "type": "quantitative", "axis": {"orient": "right", "labels": false, "tickSize": -4, "values": [0,20,40,60,80,100,120,140]}}}},
  {"data": {"name": "curves"}, "transform": [{"filter": "datum.p=='D' && datum.c=='T'"}],
   "mark": {"type": "line", "interpolate": "monotone", "color": "#2f4a2c", "strokeWidth": 1.3, "strokeDash": [4, 2.5]},
   "encoding": {"x": {"field": "x", "type": "quantitative", "axis": null}, "y": {"field": "y", "type": "quantitative", "axis": null}}},
  {"data": {"values": [{}]}, "mark": {"type": "text", "align": "left", "baseline": "alphabetic", "fontSize": 18, "font": "Liberation Serif", "color": "#111"},
   "encoding": {"x": {"datum": 21, "type": "quantitative", "axis": null}, "y": {"datum": 127, "type": "quantitative", "axis": null}, "text": {"value": "MF13+VCR"}}},
  {"data": {"values": [{}]}, "mark": {"type": "text", "align": "left", "baseline": "alphabetic", "fontSize": 18, "font": "Liberation Serif", "color": "#111", "lineHeight": 23},
   "encoding": {"x": {"datum": 23, "type": "quantitative", "axis": null}, "y": {"datum": 114, "type": "quantitative", "axis": null}, "text": {"value": ["G₀/G₁=4.2%", "S=43.2%", "G₂/M=52.6%"]}}}
 ],
 "resolve": {"axis": {"x": "independent", "y": "independent"}}}
], "spacing": 23}
],
"spacing": 0
}
